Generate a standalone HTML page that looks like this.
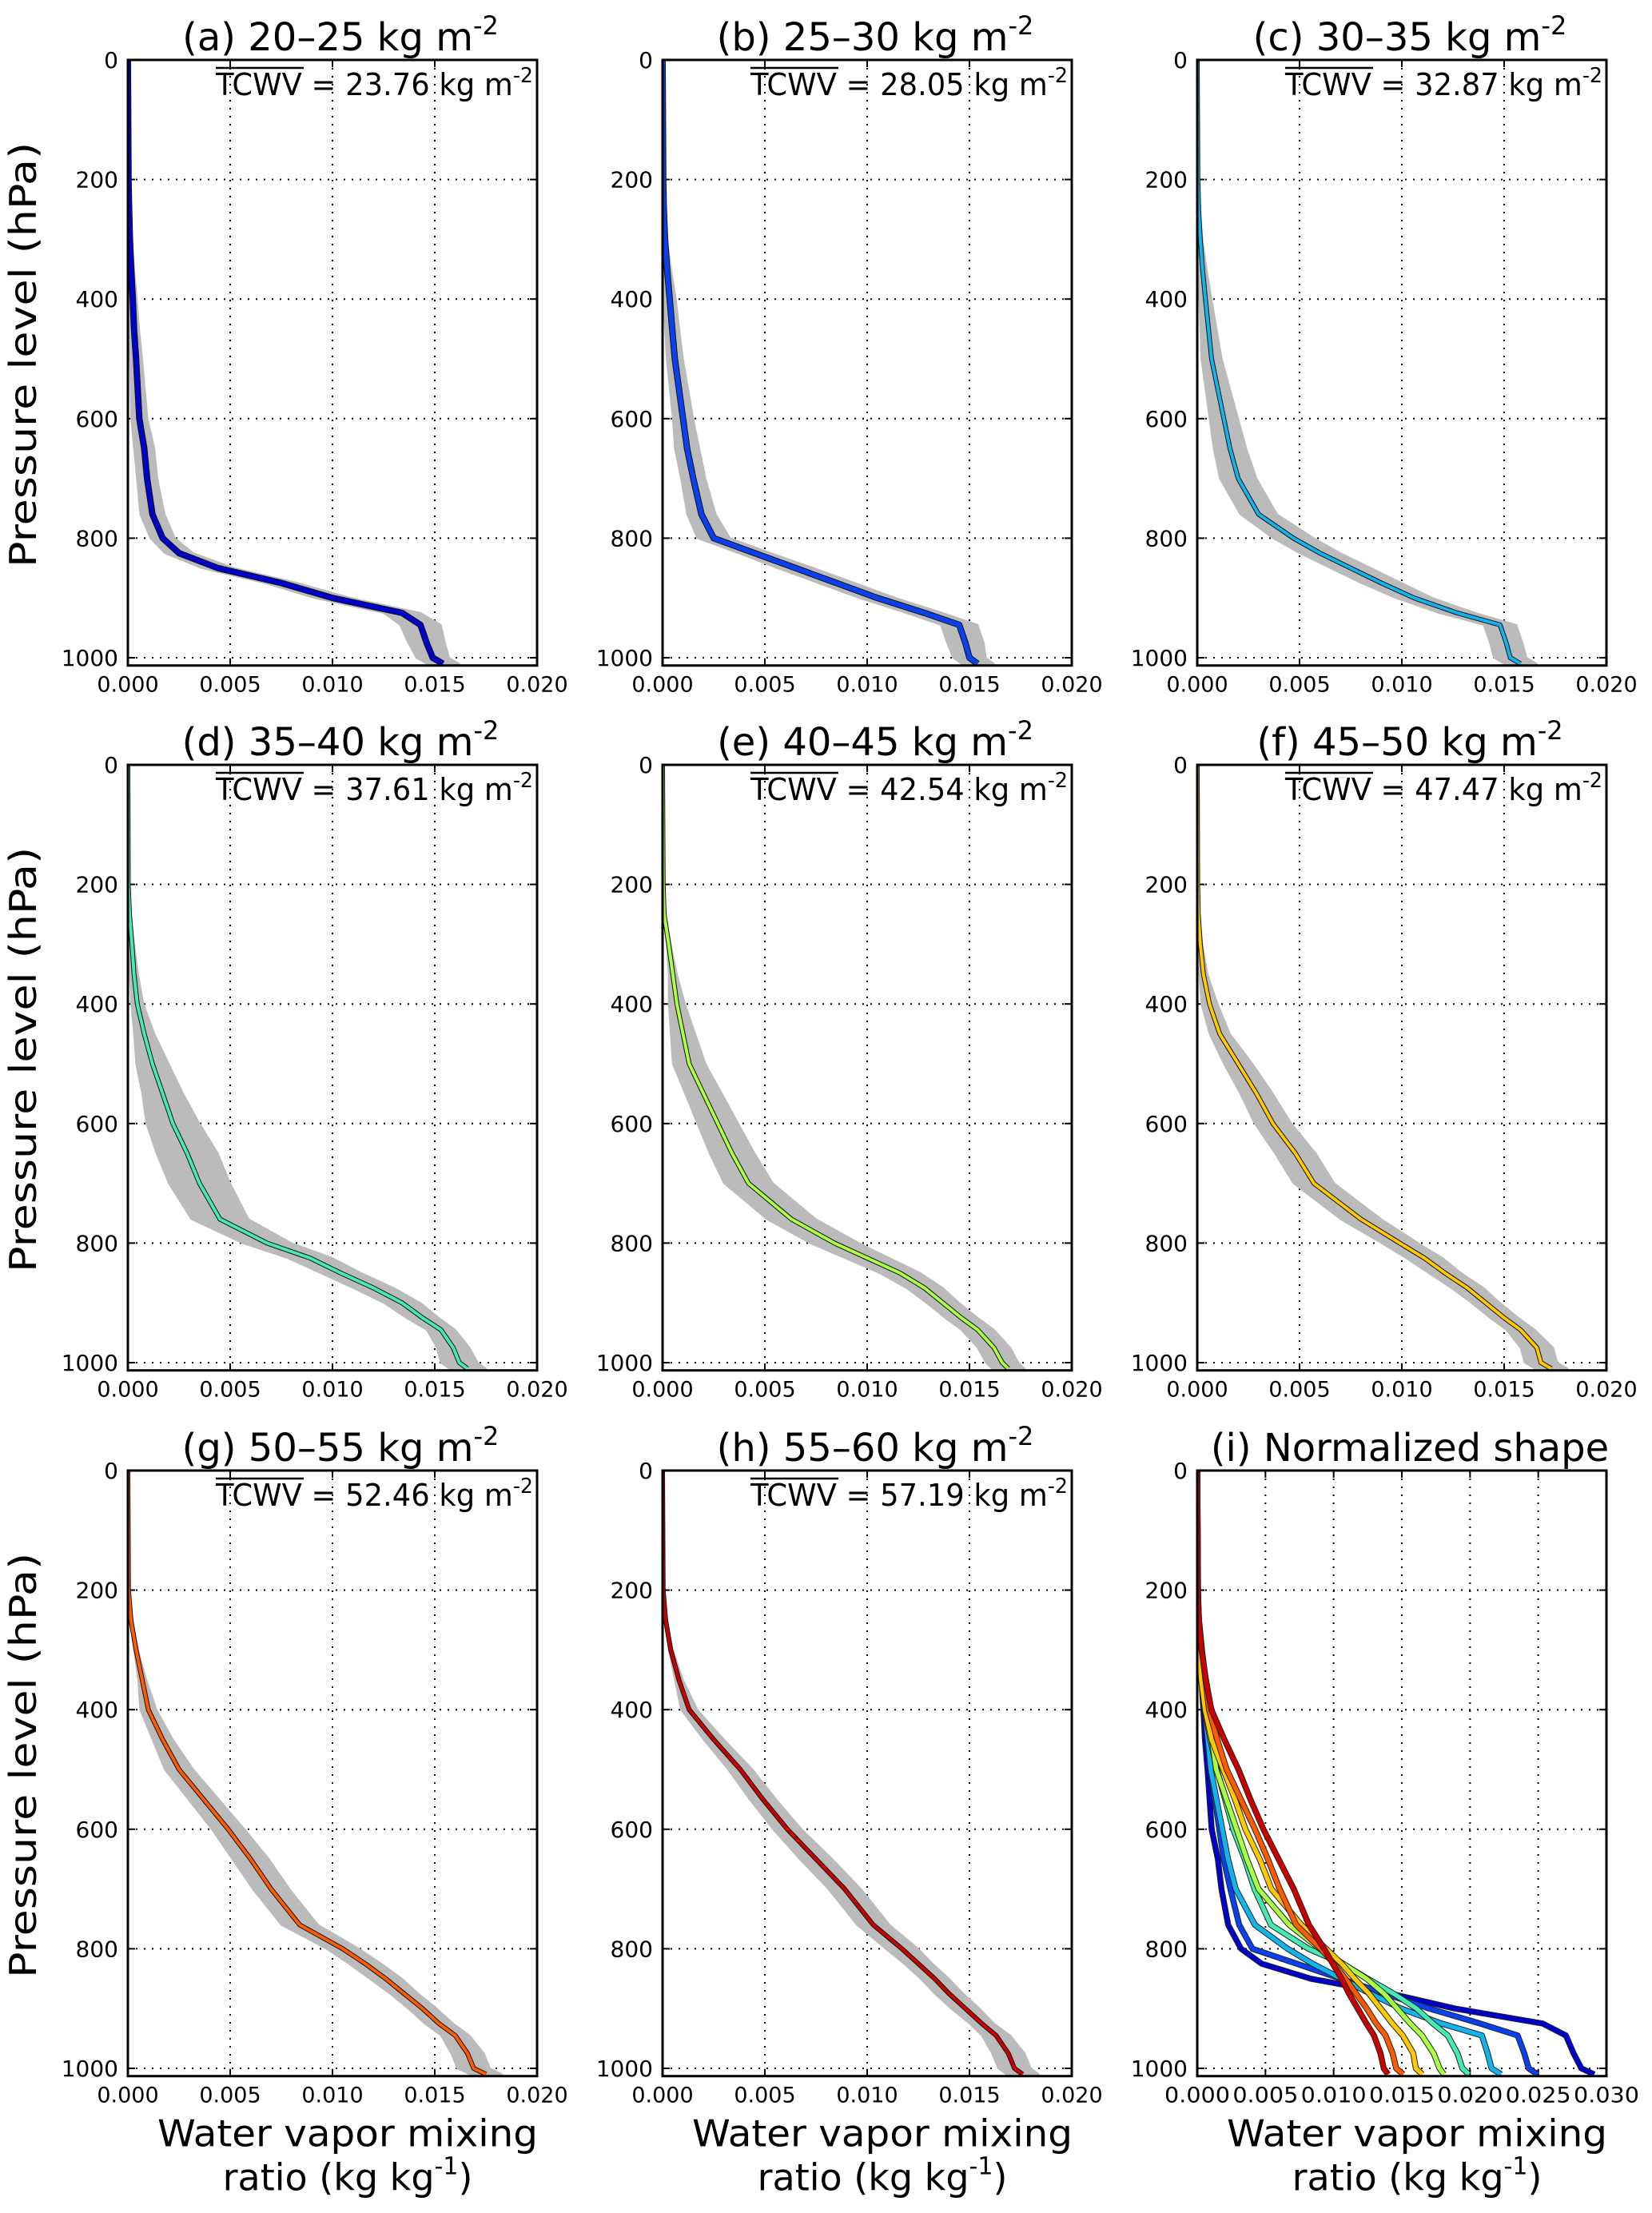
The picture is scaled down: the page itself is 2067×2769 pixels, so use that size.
<!DOCTYPE html>
<html><head><meta charset="utf-8"><style>
html,body{margin:0;padding:0;background:#fff;}
svg{display:block;font-family:"DejaVu Sans","Liberation Sans",sans-serif;}
</style></head><body>
<svg id="fig" width="2067" height="2769" viewBox="0 0 2067 2769" xmlns="http://www.w3.org/2000/svg"></svg>
<script>
// ---- data ----
const levels = [0,200,250,300,350,400,450,500,550,600,650,700,760,800,825,850,875,900,925,945,975,1000,1010];
const profA = [0,0.00003,0.00006,0.0001,0.00016,0.00024,0.0003,0.0004,0.00048,0.00056,0.0008,0.00094,0.0012,0.0017,0.0025,0.0044,0.0075,0.0100,0.0134,0.0143,0.0146,0.0149,0.0154];
const profB = [0,0.00003,0.00006,0.00012,0.00022,0.00035,0.00047,0.0006,0.0008,0.0010,0.0012,0.0015,0.0019,0.0025,0.0045,0.0065,0.0085,0.0105,0.0128,0.0145,0.0148,0.0150,0.0154];
const profC = [0,0.00003,0.00007,0.00015,0.00026,0.0004,0.00055,0.0007,0.0010,0.0013,0.0016,0.0020,0.0030,0.0047,0.0060,0.0075,0.0090,0.0106,0.0127,0.0148,0.0151,0.0153,0.0158];
const profD = [0,0.00002,0.00008,0.0002,0.0003,0.00046,0.0008,0.0012,0.0017,0.0022,0.0029,0.0035,0.0045,0.0068,0.0089,0.0104,0.0120,0.0134,0.0144,0.0153,0.0159,0.0162,0.0166];
const profE = [0,0.00003,0.00008,0.0003,0.0005,0.0007,0.0010,0.0013,0.0020,0.0027,0.0034,0.0042,0.0063,0.0084,0.0100,0.0116,0.0128,0.0137,0.0146,0.0154,0.0162,0.0166,0.0169];
const profF = [0,0.00002,0.00005,0.00015,0.0003,0.0006,0.0011,0.0020,0.0029,0.0037,0.0048,0.0057,0.0080,0.0099,0.0111,0.0121,0.0132,0.0141,0.0150,0.0158,0.0166,0.0168,0.0173];
const profG = [0,0.00003,0.00015,0.0004,0.0007,0.0010,0.0017,0.0025,0.0037,0.0049,0.0060,0.0070,0.0084,0.0105,0.0116,0.0126,0.0135,0.0144,0.0152,0.0160,0.0166,0.0169,0.0175];
const profH = [0,0.00003,0.00015,0.0004,0.0008,0.0013,0.0025,0.0038,0.0049,0.0061,0.0075,0.0089,0.0103,0.0117,0.0125,0.0133,0.0140,0.0148,0.0156,0.0163,0.0169,0.0172,0.0176];
const stdA = [0,0.00003,0.00006,0.0001,0.00015,0.0002,0.00025,0.0003,0.00035,0.0004,0.0005,0.0005,0.0006,0.0006,0.0007,0.0008,0.0008,0.0009,0.0009,0.0010,0.0009,0.0008,0.0008];
const stdB = [0,0.00003,0.00006,0.0001,0.0002,0.0003,0.00035,0.0004,0.00045,0.0005,0.0006,0.0006,0.0007,0.0008,0.0008,0.0009,0.0009,0.0009,0.0009,0.0009,0.0009,0.0008,0.0008];
const stdC = [0,0.00003,0.00006,0.0001,0.0002,0.0003,0.0004,0.0005,0.0006,0.0007,0.0008,0.0009,0.0009,0.0010,0.0010,0.0010,0.0010,0.0009,0.0009,0.0008,0.0008,0.0008,0.0008];
const stdD = [0,0.00002,0.00005,0.0001,0.0002,0.0003,0.0005,0.0008,0.0010,0.0013,0.0015,0.0015,0.0014,0.0012,0.0011,0.0010,0.0010,0.0009,0.0008,0.0007,0.0008,0.0009,0.0009];
const stdE = [0,0.00002,0.00005,0.0001,0.0002,0.0004,0.0006,0.0008,0.0009,0.0010,0.0011,0.0012,0.0012,0.0012,0.0011,0.0010,0.0009,0.0008,0.0008,0.0008,0.0008,0.0008,0.0008];
const stdF = [0,0.00002,0.00005,0.0001,0.0002,0.0004,0.0005,0.0007,0.0008,0.0009,0.0010,0.0010,0.0010,0.0009,0.0009,0.0008,0.0008,0.0007,0.0007,0.0007,0.0008,0.0008,0.0008];
const stdG = [0,0.00002,0.00005,0.0001,0.0002,0.0004,0.0005,0.0007,0.00075,0.0008,0.0009,0.0009,0.0009,0.0008,0.0008,0.0008,0.0007,0.0007,0.0007,0.0007,0.0008,0.0008,0.0008];
const stdH = [0,0.00002,0.00005,0.0001,0.0002,0.0004,0.0005,0.0006,0.00065,0.0007,0.0008,0.0008,0.0008,0.0008,0.0007,0.0007,0.0007,0.0007,0.0006,0.0007,0.0008,0.0008,0.0008];
const titles = ["(a) 20–25 kg m","(b) 25–30 kg m","(c) 30–35 kg m","(d) 35–40 kg m","(e) 40–45 kg m","(f) 45–50 kg m","(g) 50–55 kg m","(h) 55–60 kg m"];
const tcwvValues = ["23.76","28.05","32.87","37.61","42.54","47.47","52.46","57.19"];
const normFactors = [1.89,1.62,1.41,1.20,1.07,0.954,0.863,0.795];
const yTicks = [0,200,400,600,800,1000];
const xTicksPanel = [0,0.005,0.010,0.015,0.020];
const xTickLabelsPanel = ["0.000","0.005","0.010","0.015","0.020"];
const xTicksNorm = [0,0.005,0.010,0.015,0.020,0.025,0.030];
const xTickLabelsNorm = ["0.000","0.005","0.010","0.015","0.020","0.025","0.030"];

const profiles = [profA,profB,profC,profD,profE,profF,profG,profH];
const stds = [stdA,stdB,stdC,stdD,stdE,stdF,stdG,stdH];
const colors = ["#0000c8","#0a40ee","#12b4ee","#44eab0","#a8ff44","#ffc800","#ff5a00","#c80000"];

const NS="http://www.w3.org/2000/svg";
const svg=document.getElementById('fig');
function mk(tag,attrs,parent){const e=document.createElementNS(NS,tag);for(const k in attrs)e.setAttribute(k,attrs[k]);(parent||svg).appendChild(e);return e;}

const colX=[160,829,1498], rowY=[75,957,1840];
const W=512, PPH=0.748, H=1013*PPH;

function drawPanel(idx){
  const col=idx%3,row=Math.floor(idx/3);
  const x0=colX[col],y0=rowY[row];
  const isNorm = idx===8;
  const xmax = isNorm?0.030:0.020;
  const sx=v=>x0+v/xmax*W, sy=p=>y0+p*PPH;
  const g=mk('g',{});
  
  
  const cid='clip'+idx;
  const cp=mk('clipPath',{id:cid},g); mk('rect',{x:x0,y:y0,width:W,height:H},cp);
  const xt=isNorm?xTicksNorm:xTicksPanel, xl=isNorm?xTickLabelsNorm:xTickLabelsPanel;
  xt.forEach((v,i)=>{
    if(i>0&&i<xt.length-1){const gl=mk('line',{x1:sx(v),x2:sx(v),y1:y0,y2:y0+H,stroke:'#000','stroke-width':2,'stroke-dasharray':'2 8'},g);
      
      }
    mk('line',{x1:sx(v),x2:sx(v),y1:y0,y2:y0+9,stroke:'#000','stroke-width':2},g);
    mk('line',{x1:sx(v),x2:sx(v),y1:y0+H,y2:y0+H-9,stroke:'#000','stroke-width':2},g);
    const t=mk('text',{x:sx(v),y:y0+H+33,'font-size':27,'text-anchor':'middle'},g);
    if(isNorm){t.setAttribute('textLength',82);t.setAttribute('lengthAdjust','spacingAndGlyphs');}
    t.textContent=xl[i];
    
    
  });
  yTicks.forEach(p=>{
    if(p>0){const gl=mk('line',{x1:x0,x2:x0+W,y1:sy(p),y2:sy(p),stroke:'#000','stroke-width':2,'stroke-dasharray':'2 8'},g);
      
      }
    mk('line',{x1:x0,x2:x0+9,y1:sy(p),y2:sy(p),stroke:'#000','stroke-width':2},g);
    mk('line',{x1:x0+W,x2:x0+W-9,y1:sy(p),y2:sy(p),stroke:'#000','stroke-width':2},g);
    const t=mk('text',{x:x0-12,y:sy(p)+10,'font-size':28,'text-anchor':'end'},g);
    t.textContent=p;
    
    
  });
  const plot=mk('g',{'clip-path':'url(#'+cid+')'},g);
  if(!isNorm){
    const prof=profiles[idx],sd=stds[idx];
    let pts=[];
    levels.forEach((p,i)=>pts.push(sx(Math.max(0,prof[i]-sd[i]))+','+sy(p)));
    for(let i=levels.length-1;i>=0;i--)pts.push(sx(prof[i]+sd[i])+','+sy(levels[i]));
    const band=mk('polygon',{points:pts.join(' '),fill:'#bbbbbb','stroke':'#bbbbbb','stroke-width':2,'stroke-linejoin':'round'},plot);
    
    
    const d='M'+levels.map((p,i)=>sx(prof[i])+','+sy(p)).join(' L');
    const thick=idx<2;
    mk('path',{d:d,fill:'none',stroke:'#111','stroke-width':thick?8:6,'stroke-linejoin':'round'},plot);
    const ln=mk('path',{d:d,fill:'none',stroke:colors[idx],'stroke-width':thick?6:4,'stroke-linejoin':'round'},plot);
    
    
  } else {
    profiles.forEach((prof,k)=>{
      const d='M'+levels.map((p,i)=>sx(prof[i]*normFactors[k])+','+sy(p)).join(' L');
      mk('path',{d:d,fill:'none',stroke:'#222','stroke-width':7.5,'stroke-linejoin':'round'},plot);
      const ln=mk('path',{d:d,fill:'none',stroke:colors[k],'stroke-width':5.5,'stroke-linejoin':'round'},plot);
      
      
    });
  }
  const fr=mk('rect',{x:x0,y:y0,width:W,height:H,fill:'none',stroke:'#000','stroke-width':3},g);
  
  
  const tt=mk('text',{x:x0+W/2+10,y:y0-12,'font-size':48,'text-anchor':'middle'},g);
  
  
  if(isNorm){tt.textContent='(i) Normalized shape';}
  else{
    tt.appendChild(document.createTextNode(titles[idx]));
    const s=mk('tspan',{'font-size':32,dy:-20},tt); s.textContent='-2';
    const tx=mk('text',{x:x0+110,y:y0+44,'font-size':38,textLength:397,lengthAdjust:'spacingAndGlyphs'},g);
    
    
    tx.appendChild(document.createTextNode('TCWV = '+tcwvValues[idx]+' kg m'));
    const s2=mk('tspan',{'font-size':26,dy:-16},tx); s2.textContent='-2';
    mk('line',{x1:x0+110,x2:x0+220,y1:y0+10,y2:y0+10,stroke:'#000','stroke-width':2.5},g);
  }
  if(col===0){
    const cy=y0+H/2-10, cx=45;
    const yl=mk('text',{x:0,y:0,'font-size':46,'text-anchor':'middle',transform:'translate('+cx+','+cy+') rotate(-90)',textLength:532,lengthAdjust:'spacingAndGlyphs'},g);
    yl.textContent='Pressure level (hPa)';
    
    
  }
  if(row===2){
    const cx=x0+W/2+19;
    const l1=mk('text',{x:cx,y:y0+H+88,'font-size':46,'text-anchor':'middle',textLength:476,lengthAdjust:'spacingAndGlyphs'},g);
    l1.textContent='Water vapor mixing';
    
    
    const l2=mk('text',{x:cx,y:y0+H+143,'font-size':46,'text-anchor':'middle'},g);
    l2.appendChild(document.createTextNode('ratio (kg kg'));
    const s3=mk('tspan',{'font-size':30,dy:-20},l2); s3.textContent='-1';
    const s4=mk('tspan',{dy:20},l2); s4.textContent=')';
    
    
  }
}
for(let i=0;i<9;i++)drawPanel(i);
</script>
</body></html>
